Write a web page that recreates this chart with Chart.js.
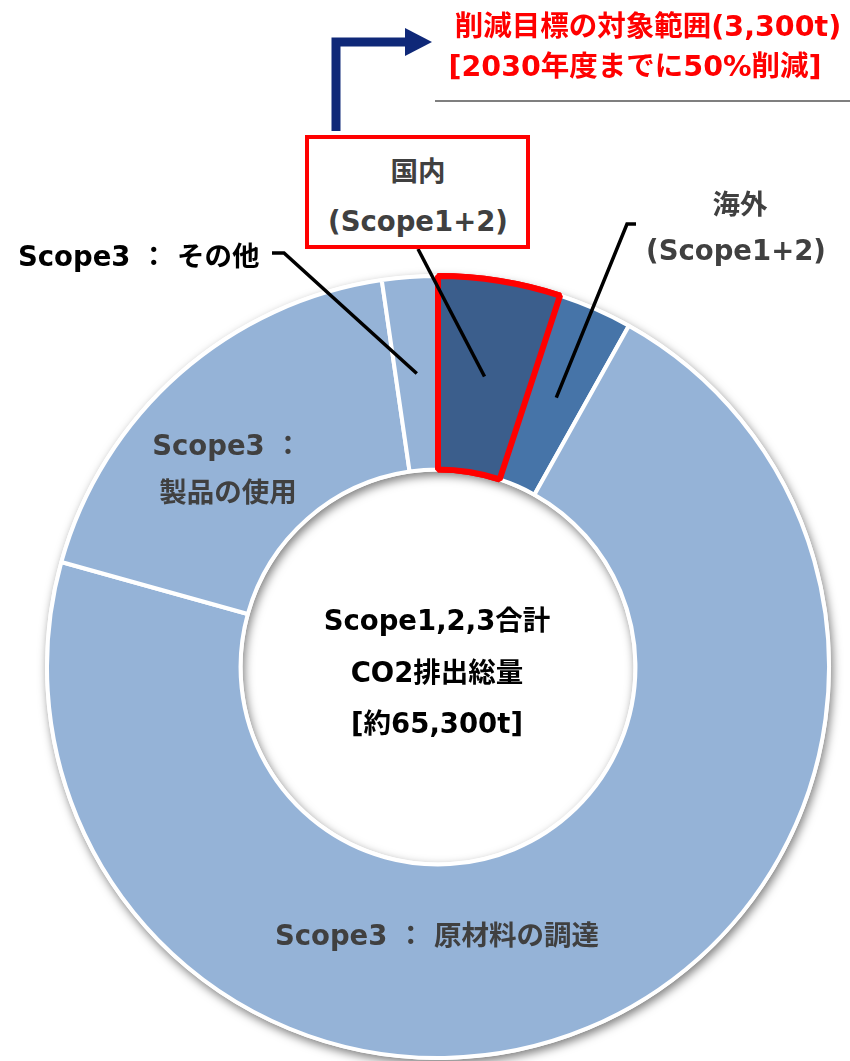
<!DOCTYPE html>
<html lang="ja">
<head>
<meta charset="utf-8">
<title>CO2排出総量</title>
<script src="https://cdn.jsdelivr.net/npm/chart.js@4.4.1/dist/chart.umd.min.js"></script>
<style>
	html, body { margin: 0; padding: 0; background: #fff; }
	#wrap { position: relative; width: 850px; height: 1061px; overflow: hidden; }
	#chart { position: absolute; left: 0; top: 0; }
	.lbl {
		position: absolute;
		transform: translate(-50%, -50%);
		white-space: nowrap;
		font-family: "DejaVu Sans", "Noto Sans CJK JP", sans-serif;
		font-weight: bold;
		font-size: 27.5px;
		line-height: 1;
		color: #404040;
	}
	.red { color: #ff0000; font-size: 28.5px; }
	.black { color: #000; }
	.left { transform: translate(0, -50%); }
	#box {
		position: absolute;
		left: 305px; top: 135px;
		width: 217px; height: 106px;
		border: 4px solid #ff0000;
		background: #fff;
	}
	#rule {
		position: absolute;
		left: 435px; top: 100px;
		width: 415px; height: 2px;
		background: #7f7f7f;
	}
</style>
</head>
<body>
<div id="wrap">
	<canvas id="chart" width="850" height="1061"></canvas>
	<div id="rule"></div>
	<div id="box"></div>
</div>
<script>
// Scope1,2,3 CO2 emissions breakdown (t), clockwise from the top
const categories = [
	"国内 (Scope1+2)",
	"海外 (Scope1+2)",
	"Scope3 ： 原材料の調達",
	"Scope3 ： 製品の使用",
	"Scope3 ： その他",
];
const emissions = [3300, 2000, 46500, 12000, 1500];
const centerLines = ["Scope1,2,3合計", "CO2排出総量", "[約65,300t]"];
const targetLines = ["削減目標の対象範囲(3,300t)", "[2030年度までに50%削減]"];

const sliceColors = ["#3b5e8c", "#4674a8", "#95b3d7", "#95b3d7", "#95b3d7"];

// text overlays
const wrap = document.getElementById("wrap");
const addLabel = (text, x, y, cls) => {
	const el = document.createElement("div");
	el.className = `lbl ${cls || ""}`;
	el.textContent = text;
	el.style.left = `${x}px`;
	el.style.top = `${y}px`;
	wrap.appendChild(el);
};

addLabel(targetLines[0], 648, 27, "red");
addLabel(targetLines[1], 635, 67, "red");

addLabel("国内", 418, 172);
addLabel("(Scope1+2)", 418, 222);
addLabel("海外", 740, 205);
addLabel("(Scope1+2)", 736, 251);
addLabel("Scope3 ： その他", 18, 257, "black left");
addLabel("Scope3 ：", 227, 446);
addLabel("製品の使用", 228, 493);
addLabel("Scope3 ： 原材料の調達", 437, 936);

addLabel(centerLines[0], 437, 621, "black");
addLabel(centerLines[1], 437, 673, "black");
addLabel(centerLines[2], 437, 724, "black");

// soft shadow under the whole ring
const ringShadow = {
	id: "ringShadow",
	beforeDatasetsDraw(chart) {
		const arc = chart.getDatasetMeta(0).data[0];
		const { x, y, outerRadius, innerRadius } = arc;
		const ctx = chart.ctx;
		ctx.save();
		ctx.shadowColor = "rgba(0,0,0,0.5)";
		ctx.shadowBlur = 10;
		ctx.shadowOffsetX = 2;
		ctx.shadowOffsetY = 4;
		ctx.fillStyle = "#fff";
		ctx.beginPath();
		ctx.arc(x, y, outerRadius + 2, 0, Math.PI * 2);
		ctx.arc(x, y, innerRadius - 2, 0, Math.PI * 2, true);
		ctx.fill("evenodd");
		ctx.restore();
	},
};

// red outline on top, leader lines and the arrow
const annotations = {
	id: "annotations",
	afterDatasetsDraw(chart) {
		const ctx = chart.ctx;
		const arcs = chart.getDatasetMeta(0).data;
		arcs[0].draw(ctx);

		const line = (pts) => {
			ctx.beginPath();
			ctx.moveTo(pts[0][0], pts[0][1]);
			pts.slice(1).forEach((p) => ctx.lineTo(p[0], p[1]));
			ctx.stroke();
		};

		ctx.save();
		ctx.strokeStyle = "#000";
		ctx.lineWidth = 3.5;
		const p0 = arcs[0].tooltipPosition();
		const p1 = arcs[1].tooltipPosition();
		const p4 = arcs[4].tooltipPosition();
		line([[418, 249], [p0.x, p0.y]]);
		line([[636, 224], [627, 224], [p1.x, p1.y]]);
		line([[272, 253], [284, 253], [p4.x, p4.y]]);

		// arrow from the box to the target text
		ctx.strokeStyle = "#0f2878";
		ctx.fillStyle = "#0f2878";
		ctx.lineWidth = 9;
		ctx.lineJoin = "miter";
		line([[336, 131], [336, 42], [408, 42]]);
		ctx.beginPath();
		ctx.moveTo(405, 28);
		ctx.lineTo(432, 42);
		ctx.lineTo(405, 56);
		ctx.closePath();
		ctx.fill();
		ctx.restore();
	},
};

new Chart(document.getElementById("chart"), {
	type: "doughnut",
	data: {
		labels: categories,
		datasets: [
			{
				data: emissions,
				backgroundColor: sliceColors,
				borderColor: ["#ff0000", "#fff", "#fff", "#fff", "#fff"],
				borderWidth: [6, 4, 4, 4, 4],
				hoverOffset: 0,
			},
		],
	},
	options: {
		responsive: false,
		animation: false,
		cutout: "50.5%",
		layout: {
			padding: { left: 44, right: 18, top: 273, bottom: 0 },
		},
		plugins: {
			legend: { display: false },
			tooltip: { enabled: false },
		},
	},
	plugins: [ringShadow, annotations],
});
</script>
</body>
</html>
